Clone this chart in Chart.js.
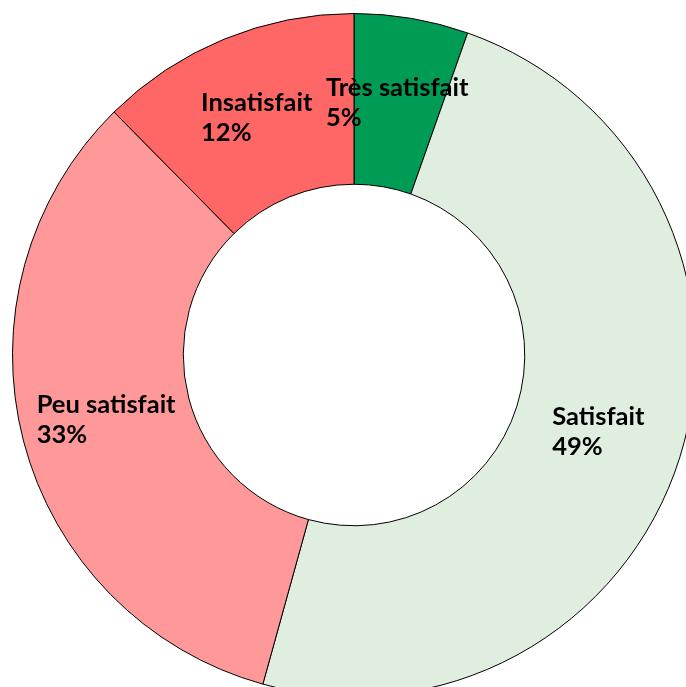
<!DOCTYPE html>
<html>
<head>
<meta charset="utf-8">
<script src="https://cdn.jsdelivr.net/npm/chart.js@4.4.0/dist/chart.umd.min.js"></script>
<style>
  html, body { margin: 0; padding: 0; overflow: hidden; background: #fff; }
  #wrap { position: absolute; left: 0; top: 0; width: 708px; height: 710px; }
</style>
</head>
<body>
<div id="wrap"><canvas id="graphique"></canvas></div>
<script>
// Données (en %)
const categories = ["Très satisfait", "Satisfait", "Peu satisfait", "Insatisfait"];
const valeurs = [5.4, 48.9, 33.3, 12.4];
const etiquettes = ["5%", "49%", "33%", "12%"];
const couleurs = ["#009B55", "#E0EEDF", "#FF9999", "#FF6666"];

// Etiquettes au milieu de chaque anneau, texte aligné à gauche
const pluginEtiquettes = {
  id: "etiquettes",
  afterDatasetsDraw(chart) {
    const ctx = chart.ctx;
    const meta = chart.getDatasetMeta(0);
    ctx.save();
    ctx.font = "bold 25.5px Lato";
    ctx.fillStyle = "#000";
    ctx.textBaseline = "middle";
    ctx.textAlign = "left";
    meta.data.forEach((arc, i) => {
      const pos = arc.tooltipPosition();
      const l1 = categories[i];
      const l2 = etiquettes[i];
      const w = Math.max(ctx.measureText(l1).width, ctx.measureText(l2).width);
      const x = pos.x - w / 2;
      ctx.fillText(l1, x, pos.y - 15);
      ctx.fillText(l2, x, pos.y + 15);
    });
    ctx.restore();
  }
};

new Chart(document.querySelector("#graphique"), {
  type: "doughnut",
  data: {
    labels: categories,
    datasets: [{
      data: valeurs,
      backgroundColor: couleurs,
      borderColor: "#000",
      borderWidth: 1
    }]
  },
  options: {
    responsive: true,
    maintainAspectRatio: false,
    animation: false,
    cutout: "50%",
    layout: { padding: 12 },
    plugins: {
      legend: { display: false },
      tooltip: { enabled: false }
    }
  },
  plugins: [pluginEtiquettes]
});
</script>
</body>
</html>
